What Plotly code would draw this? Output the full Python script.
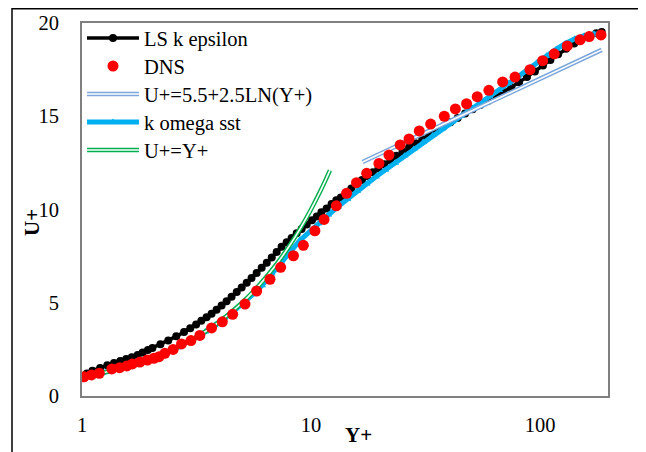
import plotly.graph_objects as go

# ---------------- data ----------------
dns_y = [1.02, 1.10, 1.19, 1.35, 1.46, 1.57, 1.66, 1.79, 1.93, 2.06, 2.17, 2.30, 2.50, 2.72, 2.99,
         3.27, 3.68, 4.10, 4.55, 5.15, 5.79, 6.62, 7.37, 8.38, 9.26, 10.4, 11.4, 12.9, 14.3, 15.8,
         17.5, 19.8, 21.9, 24.5, 26.8, 29.7, 33.3, 38.2, 42.7, 47.8, 53.2, 59.8, 68.7, 77.8, 90.4,
         102.7, 115.4, 131.5, 149.5, 164, 184.7]
dns_u = [1.03, 1.13, 1.22, 1.45, 1.52, 1.61, 1.72, 1.82, 1.93, 2.02, 2.11, 2.29, 2.50, 2.79, 2.97,
         3.25, 3.65, 3.98, 4.38, 4.93, 5.63, 6.26, 6.90, 7.52, 8.08, 8.86, 9.47, 10.2, 10.87, 11.44,
         11.94, 12.47, 12.92, 13.46, 13.78, 14.21, 14.58, 15.0, 15.39, 15.67, 16.05, 16.39, 16.84, 17.1, 17.5,
         17.98, 18.35, 18.77, 19.1, 19.27, 19.36]

lske_y = [1.05, 1.11, 1.2, 1.29, 1.38, 1.47, 1.56, 1.65, 1.75, 1.84, 1.94, 2.03, 2.2, 2.38, 2.58,
          2.79, 2.97, 3.15, 3.32, 3.5, 3.68, 3.87, 4.07, 4.28, 4.5, 4.74, 4.98, 5.24, 5.5, 5.79,
          6.09, 6.41, 6.74, 7.08, 7.44, 7.83, 8.23, 8.66, 9.1, 9.58, 10.1, 10.6, 11.1, 11.7, 12.3,
          12.9, 13.5, 14.2, 15.0, 15.8, 16.7, 17.6, 18.6, 19.7, 20.9, 22.2, 23.6, 25.1, 26.8, 28.6,
          30.6, 32.8, 35.2, 37.8, 40.6, 43.7, 47.1, 50.8, 54.8, 59.2, 64.0, 69.2, 74.9, 81.0, 87.7,
          95.0, 103, 111, 120, 130, 141, 152, 164, 176, 186]
lske_u = [1.2, 1.36, 1.5, 1.65, 1.77, 1.88, 1.98, 2.08, 2.2, 2.33, 2.46, 2.58, 2.78, 2.98, 3.2,
          3.43, 3.63, 3.84, 4.03, 4.22, 4.41, 4.62, 4.85, 5.08, 5.32, 5.58, 5.82, 6.07, 6.33, 6.6,
          6.87, 7.15, 7.43, 7.72, 8.0, 8.25, 8.47, 8.72, 8.95, 9.2, 9.42, 9.62, 9.85, 10.05, 10.3,
          10.5, 10.65, 10.88, 11.12, 11.35, 11.58, 11.8, 12.0, 12.2, 12.42, 12.65, 12.88, 13.1, 13.32, 13.55,
          13.78, 14.0, 14.22, 14.45, 14.68, 14.9, 15.15, 15.38, 15.6, 15.82, 16.05, 16.3, 16.55, 16.82, 17.1,
          17.4, 17.72, 18.02, 18.32, 18.62, 18.9, 19.12, 19.32, 19.45, 19.52]

kw_y = [1.0, 1.1, 1.21, 1.33, 1.46, 1.61, 1.77, 1.95, 2.14, 2.36, 2.59, 2.85, 3.14, 3.45, 3.8,
        4.18, 4.6, 5.06, 5.56, 6.12, 6.73, 7.4, 8.14, 8.95, 9.85, 10.8, 11.9, 13.1, 14.4, 15.9,
        17.5, 19.2, 21.1, 23.3, 25.6, 28.1, 30.9, 34.0, 37.4, 41.2, 45.3, 49.8, 54.8, 60.3, 66.3,
        72.9, 80.2, 88.2, 97.0, 107, 118, 129, 142, 156, 172, 186]
kw_u = [1.0, 1.1, 1.21, 1.33, 1.46, 1.61, 1.77, 1.95, 2.14, 2.36, 2.59, 2.84, 3.13, 3.44, 3.78,
        4.15, 4.55, 4.98, 5.44, 5.93, 6.55, 7.2, 7.8, 8.35, 8.8, 9.25, 9.72, 10.15, 10.55, 10.98,
        11.38, 11.75, 12.12, 12.5, 12.88, 13.25, 13.62, 13.98, 14.33, 14.68, 15.02, 15.36, 15.7, 16.05, 16.4,
        16.76, 17.12, 17.5, 17.88, 18.25, 18.6, 18.9, 19.15, 19.32, 19.42, 19.45]

loglaw_y = [16.8, 30, 60, 100, 186]
loglaw_u = [12.55, 14.0, 15.74, 17.01, 18.56]

lin_y = [1, 1.5, 2, 3, 4, 5, 6, 7, 8, 9, 10, 11, 12.1]
lin_u = [1, 1.5, 2, 3, 4, 5, 6, 7, 8, 9, 10, 11, 12.1]

x_ticks = [1, 10, 100]
x_ticktext = ["1", "10", "100"]
y_ticks = [0, 5, 10, 15, 20]

# ---------------- layout geometry (screen pixels of the reference) ----------------
OFF = 8                      # the page body adds an 8px margin
W, H = 646 - OFF, 452 - OFF  # figure size so that it ends at the window edge
L, R, T, B = 82, 608, 23, 396
PW, PH = R - L, B - T


def px(x):
    return (x - L) / PW


def py(y):
    return (B - y) / PH


FONT = "Liberation Serif, Times New Roman, serif"
FS = 20.5
ROW_H = FS * 1.3 + 3


def leg(center_y):
    top = center_y - 5 - ROW_H / 2
    return dict(x=px(82), y=py(top), xanchor="left", yanchor="top",
                font=dict(family=FONT, size=FS, color="black"),
                bgcolor="rgba(0,0,0,0)", borderwidth=0, itemwidth=52)


fig = go.Figure()

fig.add_trace(go.Scatter(
    x=lske_y, y=lske_u, name="LS k epsilon", mode="lines+markers",
    line=dict(color="black", width=3.5), marker=dict(color="black", size=8, symbol="circle"),
    legend="legend"))

fig.add_trace(go.Scatter(
    x=kw_y, y=kw_u, name="k omega sst", mode="lines+markers",
    line=dict(color="#00B0F0", width=5), marker=dict(color="#00B0F0", size=7, symbol="triangle-up"),
    legend="legend4"))

fig.add_trace(go.Scatter(
    x=loglaw_y, y=loglaw_u, name="U+=5.5+2.5LN(Y+)", mode="lines",
    line=dict(color="#7BA7DC", width=4.5), legend="legend3"))
fig.add_trace(go.Scatter(
    x=loglaw_y, y=loglaw_u, name=" ", mode="lines",
    line=dict(color="white", width=1.6), legend="legend6", hoverinfo="skip"))

fig.add_trace(go.Scatter(
    x=lin_y, y=lin_u, name="U+=Y+", mode="lines", line_shape="spline",
    line=dict(color="#00B050", width=4.5), legend="legend5"))
fig.add_trace(go.Scatter(
    x=lin_y, y=lin_u, name=" ", mode="lines", line_shape="spline",
    line=dict(color="white", width=1.6), legend="legend7", hoverinfo="skip"))

fig.add_trace(go.Scatter(
    x=dns_y, y=dns_u, name="DNS", mode="markers",
    marker=dict(color="#FF0000", size=11, symbol="circle"),
    legend="legend2"))

fig.update_layout(
    width=W, height=H, autosize=False,
    margin=dict(l=L - OFF, r=W - (R - OFF), t=T - OFF, b=H - (B - OFF), pad=0, autoexpand=False),
    paper_bgcolor="white", plot_bgcolor="white",
    font=dict(family=FONT, size=FS, color="black"),
    showlegend=True,
    legend=leg(38), legend2=leg(66), legend3=leg(94), legend4=leg(122), legend5=leg(150),
    legend6=leg(94), legend7=leg(150),
    xaxis=dict(type="log", range=[0, (R - L) / 229.0], tickvals=x_ticks, ticktext=x_ticktext,
               showgrid=False, zeroline=False, showline=True, mirror=True, automargin=False,
               linecolor="#808080", linewidth=2, ticks="", ticklabelstandoff=9,
               tickfont=dict(family=FONT, size=FS, color="black")),
    yaxis=dict(range=[0, 20], tickvals=y_ticks, showgrid=False, zeroline=False, automargin=False,
               showline=True, mirror=True, linecolor="#808080", linewidth=2, ticks="",
               ticklabelstandoff=17, tickfont=dict(family=FONT, size=FS, color="black")),
    shapes=[dict(type="rect", xref="paper", yref="paper",
                 x0=px(12), x1=px(643), y0=py(470), y1=py(OFF + 0.75),
                 line=dict(color="black", width=1.5), fillcolor="rgba(0,0,0,0)", layer="below")],
    annotations=[
        dict(text="<b>Y+</b>", xref="paper", yref="paper", x=px(358), y=py(435),
             xanchor="center", yanchor="middle", showarrow=False,
             font=dict(family=FONT, size=21, color="black")),
        dict(text="<b>U+</b>", xref="paper", yref="paper", x=px(32), y=py(223),
             xanchor="center", yanchor="middle", showarrow=False, textangle=-90,
             font=dict(family=FONT, size=21, color="black")),
    ],
)

fig.write_html("out.html")
